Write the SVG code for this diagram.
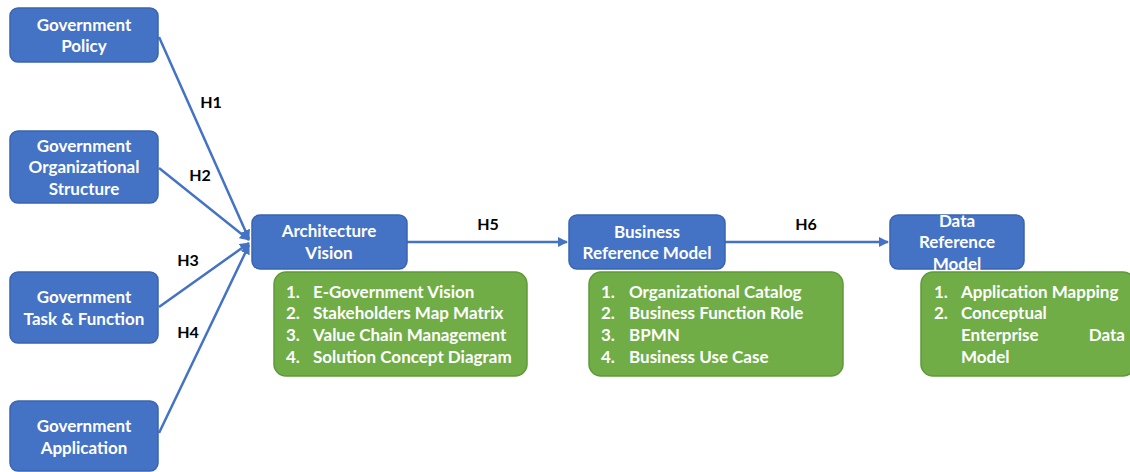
<svg xmlns="http://www.w3.org/2000/svg" width="1130" height="472" viewBox="0 0 1130 472">
<defs>
<marker id="ah" viewBox="0 0 10 10" refX="9" refY="5" markerWidth="4" markerHeight="4" orient="auto" markerUnits="strokeWidth">
<path d="M0,0 L10,5 L0,10 z" fill="#4472C4"/>
</marker>
<style>
.blue{fill:#4472C4;stroke:#3A64B0;stroke-width:1.5}
.green{fill:#70AD47;stroke:#5E9A38;stroke-width:1.5}
.bt{font-family:"Lato","Liberation Sans",sans-serif;font-weight:bold;font-size:17px;fill:#fff;text-anchor:middle}
.lt{font-family:"Lato","Liberation Sans",sans-serif;font-weight:bold;font-size:17px;fill:#fff}
.lab{font-family:"Lato","Liberation Sans",sans-serif;font-weight:bold;font-size:16px;fill:#000;text-anchor:middle}
.con{stroke:#4472C4;stroke-width:2.5;fill:none}
</style>
</defs>
<g id="connectors">
<line class="con" x1="159" y1="37" x2="249" y2="239" marker-end="url(#ah)"/>
<line class="con" x1="159" y1="168" x2="249" y2="240" marker-end="url(#ah)"/>
<line class="con" x1="159" y1="307" x2="249" y2="243" marker-end="url(#ah)"/>
<line class="con" x1="159" y1="433" x2="249" y2="245" marker-end="url(#ah)"/>
<line class="con" x1="407" y1="242" x2="567" y2="242" marker-end="url(#ah)"/>
<line class="con" x1="725" y1="242" x2="888" y2="242" marker-end="url(#ah)"/>
<text class="lab" x="211" y="108">H1</text>
<text class="lab" x="200" y="181">H2</text>
<text class="lab" x="188" y="266">H3</text>
<text class="lab" x="188" y="338">H4</text>
<text class="lab" x="488" y="230">H5</text>
<text class="lab" x="806" y="230">H6</text>
</g>
<g id="gov-policy">
<rect class="blue" x="10" y="8" width="148" height="54" rx="8"/>
<text class="bt" x="84" y="31">Government</text>
<text class="bt" x="84" y="52">Policy</text>
</g>
<g id="gov-org">
<rect class="blue" x="10" y="131" width="148" height="72" rx="8"/>
<text class="bt" x="84" y="152">Government</text>
<text class="bt" x="84" y="173">Organizational</text>
<text class="bt" x="84" y="195">Structure</text>
</g>
<g id="gov-task">
<rect class="blue" x="10" y="272" width="148" height="71" rx="8"/>
<text class="bt" x="84" y="303">Government</text>
<text class="bt" x="84" y="325">Task &amp; Function</text>
</g>
<g id="gov-app">
<rect class="blue" x="10" y="401" width="148" height="70" rx="8"/>
<text class="bt" x="84" y="432">Government</text>
<text class="bt" x="84" y="454">Application</text>
</g>
<g id="arch-vision">
<rect class="blue" x="252" y="215" width="155" height="54" rx="8"/>
<text class="bt" x="329" y="237">Architecture</text>
<text class="bt" x="329" y="259">Vision</text>
</g>
<g id="arch-list">
<rect class="green" x="274" y="272" width="253" height="104" rx="12"/>
<text class="lt" x="286" y="298">1.</text><text class="lt" x="313" y="298">E-Government Vision</text>
<text class="lt" x="286" y="319">2.</text><text class="lt" x="313" y="319">Stakeholders Map Matrix</text>
<text class="lt" x="286" y="341">3.</text><text class="lt" x="313" y="341">Value Chain Management</text>
<text class="lt" x="286" y="363">4.</text><text class="lt" x="313" y="363">Solution Concept Diagram</text>
</g>
<g id="business-ref">
<rect class="blue" x="569" y="215" width="156" height="54" rx="8"/>
<text class="bt" x="647" y="238">Business</text>
<text class="bt" x="647" y="259">Reference Model</text>
</g>
<g id="business-list">
<rect class="green" x="589" y="272" width="254" height="104" rx="12"/>
<text class="lt" x="601" y="298">1.</text><text class="lt" x="629" y="298">Organizational Catalog</text>
<text class="lt" x="601" y="319">2.</text><text class="lt" x="629" y="319">Business Function Role</text>
<text class="lt" x="601" y="341">3.</text><text class="lt" x="629" y="341">BPMN</text>
<text class="lt" x="601" y="363">4.</text><text class="lt" x="629" y="363">Business Use Case</text>
</g>
<g id="data-ref">
<rect class="blue" x="890" y="215" width="134" height="54" rx="8"/>
<text class="bt" x="957" y="227">Data</text>
<text class="bt" x="957" y="248">Reference</text>
<text class="bt" x="957" y="270">Model</text>
</g>
<g id="data-list">
<rect class="green" x="921" y="272" width="214" height="104" rx="12"/>
<text class="lt" x="934" y="298">1.</text><text class="lt" x="961" y="298">Application Mapping</text>
<text class="lt" x="934" y="319">2.</text><text class="lt" x="961" y="319">Conceptual</text>
<text class="lt" x="961" y="341">Enterprise</text><text class="lt" x="1125" y="341" text-anchor="end">Data</text>
<text class="lt" x="961" y="363">Model</text>
</g>
</svg>
